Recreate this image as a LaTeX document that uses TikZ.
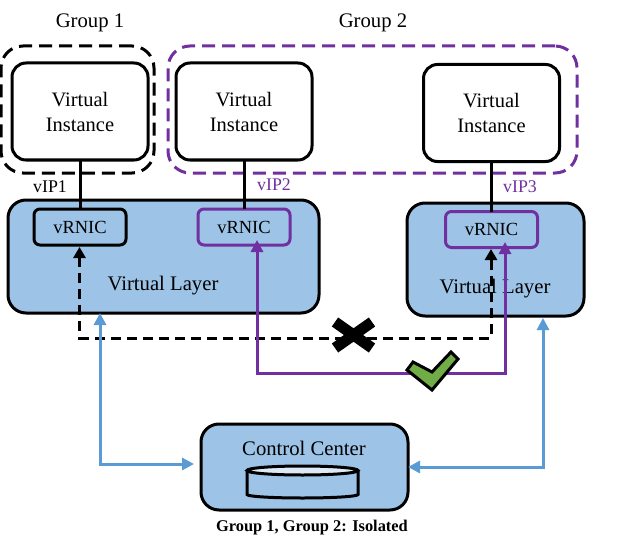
\documentclass[tikz,border=0pt]{standalone}
\usepackage{fontspec}
\setmainfont{Liberation Serif}
\usepackage{xcolor}
\usetikzlibrary{arrows.meta,positioning}
\definecolor{layerblue}{HTML}{9DC3E6}
\definecolor{linkblue}{HTML}{5B9BD5}
\definecolor{grouppurple}{HTML}{7030A0}
\definecolor{tickgreen}{HTML}{70AD47}
\tikzset{
  vinst/.style ={rounded corners=14pt,draw=black,line width=3pt,fill=white,outer sep=0pt,
                 minimum width=136pt,minimum height=97pt,inner sep=0pt,align=center,
                 font=\fontsize{20.5}{25}\selectfont},
  layer/.style ={rounded corners=18pt,draw=black,line width=3pt,fill=layerblue,outer sep=0pt,
                 inner sep=0pt},
  rnic/.style  ={rounded corners=6pt,draw=black,line width=3pt,outer sep=0pt,inner sep=0pt,
                 minimum width=92pt,minimum height=36pt,font=\fontsize{18.5}{20}\selectfont},
  rnicp/.style ={rnic,draw=grouppurple},
  zone/.style  ={rounded corners=22pt,line width=3pt,dash pattern=on 13pt off 7pt,
                 outer sep=0pt,inner sep=0pt},
  tag/.style   ={inner sep=0pt,font=\fontsize{17.8}{20}\selectfont},
  title/.style ={inner sep=0pt,font=\fontsize{20.7}{25}\selectfont},
  wire/.style  ={line width=3pt,draw=black},
  blocked/.style={{Triangle[length=11pt,width=12pt]}-{Triangle[length=11pt,width=12pt]},
                 line width=3pt,draw=black,dash pattern=on 10pt off 6pt},
  allowed/.style={{Triangle[length=12pt,width=12pt]}-{Triangle[length=12pt,width=12pt]},
                 line width=3pt,draw=grouppurple},
  ctrl/.style  ={{Triangle[length=12pt,width=12pt]}-{Triangle[length=12pt,width=12pt]},
                 line width=3pt,draw=linkblue}
}

\begin{document}
\begin{tikzpicture}[x=1pt,y=-1pt]
  \useasboundingbox (0,0) rectangle (628,548);
  % isolation groups
  \node[zone,draw=black,minimum width=153pt,minimum height=127pt] (grp1) at (77.5,109.5) {};
  \node[zone,draw=grouppurple,minimum width=409pt,minimum height=127pt] (grp2) at (372.5,109.5) {};
  \node[title] (grp1txt) at (90,23) {Group 1};
  \node[title] (grp2txt) at (373,23) {Group 2};
  % instances
  \node[vinst] (vi1) at (80,111.5) {Virtual\\Instance};
  \node[vinst] (vi2) at (244,111.5) {Virtual\\Instance};
  \node[vinst] (vi3) at (491.5,113) {Virtual\\Instance};
  % virtual layers
  \node[layer,minimum width=311pt,minimum height=113pt] (vl1) at (163.5,256.5) {};
  \node[layer,minimum width=177pt,minimum height=113pt] (vl2) at (495.5,259.5) {};
  \node[title] (vl1txt) at (163,286) {Virtual Layer};
  \node[title] (vl2txt) at (495,289) {Virtual Layer};
  \node[rnic,below=49pt of vi1] (nic1) {vRNIC};
  \node[rnicp,below=49pt of vi2] (nic2) {vRNIC};
  \node[rnicp,below=50pt of vi3] (nic3) {vRNIC};
  \draw[wire] (vi1) -- (nic1);
  \draw[wire] (vi2) -- (nic2);
  \draw[wire] (vi3) -- (nic3);
  \node[tag] (ip1) at (50,187) {vIP1};
  \node[tag,text=grouppurple] (ip2) at (274,185) {vIP2};
  \node[tag,text=grouppurple] (ip3) at (520,187) {vIP3};
  % control center
  \node[layer,minimum width=207pt,minimum height=86pt] (cc) at (304.5,467) {};
  \node[title] (cctxt) at (304,448) {Control Center};
  \draw[line width=3pt,draw=black,fill=layerblue]
    (247,470.5) -- (247,494.5) arc[start angle=180,end angle=0,x radius=55.5,y radius=3.5] -- (358,470.5);
  \draw[line width=3pt,draw=black,fill=layerblue!35] (302.5,470.5) ellipse[x radius=55.5,y radius=4.5];
  % paths between vRNICs
  \coordinate (tip1) at (79.5,247);
  \coordinate (tip3) at (491,249);
  \coordinate (midblk) at (285,338);
  \coordinate (tip2) at (257,240);
  \coordinate (tip4) at (505,242);
  \coordinate (midok) at (380,373);
  \draw[blocked] (tip1) |- (midblk) -| (tip3);
  \draw[allowed] (tip2) |- (midok) -| (tip4);
  % links to control center
  \coordinate (up1) at (100,313);
  \coordinate (up2) at (543,318);
  \coordinate (ccl) at (194,464);
  \draw[ctrl] (up1) |- (ccl);
  \draw[ctrl] (up2) |- (cc.east);
  % marks
  \draw[line width=11pt,draw=black] (335,322) -- (372,348) (372,322) -- (335,348);
  \draw[line width=3pt,draw=black,fill=tickgreen,line join=miter]
    (407,370) -- (413,362) -- (432,372) -- (451,352) -- (458,359) -- (432,390) -- cycle;
  % caption
  \node[inner sep=0pt,font=\fontsize{16.4}{18}\selectfont\bfseries] (cap) at (312,528) {Group 1, Group 2: Isolated};
\end{tikzpicture}
\end{document}
